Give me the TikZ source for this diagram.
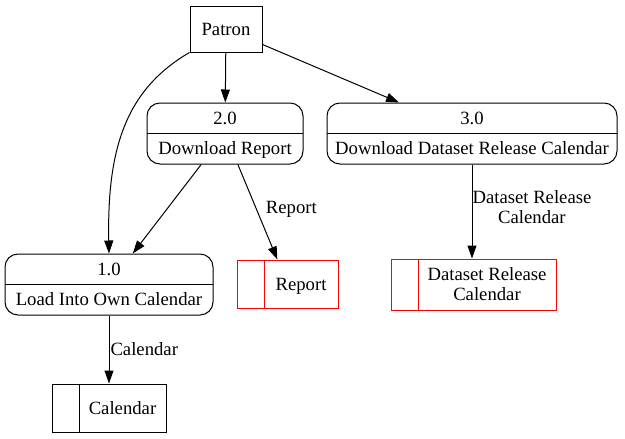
\documentclass[tikz,border=0pt]{standalone}
\usepackage{fontspec}
\setmainfont{Liberation Serif}
\usetikzlibrary{arrows.meta}
\newcommand\storetxt[2]{\hspace*{27pt}\makebox[#1]{\raisebox{-2pt}[\height][\depth]{\begin{tabular}{@{}c@{}}#2\end{tabular}}}}

\begin{document}
\begin{tikzpicture}[x=1pt,y=-1pt,line width=1pt,>={Triangle[length=13pt,width=9pt]},
 font=\fontsize{18.7}{20}\selectfont,
 ent/.style={draw,minimum width=72pt,minimum height=46pt,inner sep=0pt},
 proc/.style={draw,rounded corners=13pt,minimum height=61pt,inner sep=0pt,align=center,font=\fontsize{18.7}{30.5}\selectfont,
  path picture={\draw(path picture bounding box.west)--(path picture bounding box.east);}},
 store/.style={draw=#1,minimum height=48pt,inner sep=0pt,
  path picture={\draw[#1]([xshift=27pt]path picture bounding box.north west)--([xshift=27pt]path picture bounding box.south west);}},
 store/.default=black,lbl/.style={inner sep=1pt}]
\useasboundingbox(0,0)rectangle(625,439);
\node[ent](patron)at(226,29){Patron};
\node[proc,minimum width=156pt](dlrep)at(225,133.5){\strut2.0\\\strut Download Report};
\node[proc,minimum width=290pt](dlcal)at(472,133.5){\strut3.0\\\strut Download Dataset Release Calendar};
\node[proc,minimum width=208pt](load)at(109,284.5){\strut1.0\\\strut Load Into Own Calendar};
% data stores
\node[store=red](rep)at(287.5,284){\storetxt{74pt}{Report}};
\node[store=red,minimum height=51pt](dsrc)at(473.5,284.5){\storetxt{138pt}{Dataset Release\\Calendar}};
\node[store](cal)at(109,408){\storetxt{87pt}{Calendar}};
% flows
\draw[->](patron)--(dlrep);
\draw[->](patron)--(dlcal);
\draw[->](patron.south west)..controls(125,90)and(107,150)..(load.north);
\draw[->](dlrep)--(load);
\draw[->](dlrep)--node[lbl,pos=.47,right=8pt]{Report}(rep);
\draw[->](dlcal.south)--node[pos=.45,right,inner sep=0pt,align=center]{Dataset Release\\Calendar}(dlcal.south|-dsrc.north);
\draw[->](load)--node[lbl,midway,right]{Calendar}(cal);
\end{tikzpicture}
\end{document}
